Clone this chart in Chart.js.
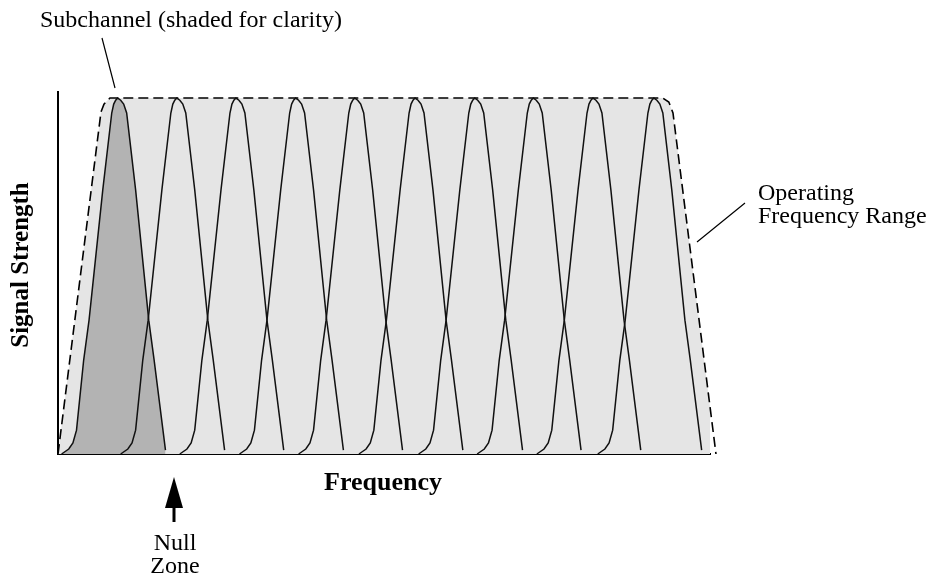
<!DOCTYPE html>
<html>
<head>
<meta charset="utf-8">
<script src="https://cdn.jsdelivr.net/npm/chart.js@4.4.1/dist/chart.umd.min.js"></script>
<style>
  html, body { margin: 0; padding: 0; background: #fff; }
  #wrap { width: 928px; height: 575px; }
</style>
</head>
<body>
<div id="wrap"><canvas id="chart"></canvas></div>
<script>
/** Data **/
// subchannel centre frequencies (one unit = one subchannel spacing)
const subchannelCenters = [1.0, 1.99, 2.98, 3.98, 4.97, 5.98, 6.98, 7.96, 8.96, 9.98];

// shape of one subchannel: offset from its centre and relative signal strength
const profileOffsets = [-0.94, -0.82, -0.75, -0.69, -0.57, -0.48, -0.25, -0.10, -0.067, -0.034, 0, 0.05, 0.10, 0.15, 0.30, 0.52, 0.61, 0.80];
const profileLevels  = [0, 0.014, 0.031, 0.067, 0.264, 0.376, 0.742, 0.958, 0.983, 0.994, 1.0, 0.994, 0.983, 0.958, 0.742, 0.376, 0.264, 0.011];

// operating frequency range outline
const rangeFreqs  = [0.0, 0.72, 0.77, 0.87, 10.13, 10.23, 10.30, 11.02];
const rangeLevels = [0, 0.961, 0.983, 1.0, 1.0, 0.989, 0.958, 0];

const freqMax = 10.92;
const levelMax = 1.017;

/** Build datasets **/
function subchannel(center) {
  return profileOffsets.map(function(o, i) {
    return { x: center + o, y: profileLevels[i] };
  });
}

var datasets = [];

datasets.push({
  label: "Operating Frequency Range",
  data: rangeFreqs.map(function(f, i) { return { x: f, y: rangeLevels[i] }; }),
  showLine: true,
  fill: "origin",
  backgroundColor: "#e5e5e5",
  borderColor: "#000",
  borderWidth: 1.6,
  borderDash: [10, 5],
  pointRadius: 0,
  tension: 0,
  clip: false,
  order: 30
});

subchannelCenters.forEach(function(c, i) {
  datasets.push({
    label: "Subchannel " + (i + 1),
    data: subchannel(c),
    showLine: true,
    fill: i === 0 ? "origin" : false,
    backgroundColor: "#b3b3b3",
    borderColor: "#111",
    borderWidth: 1.5,
    pointRadius: 0,
    tension: 0,
    clip: false,
    order: i === 0 ? 20 : 10
  });
});

/** Annotations (text, leader lines, arrow) **/
const serif = "'Liberation Serif', 'Times New Roman', serif";

var annotations = {
  id: "annotations",
  afterDraw: function(chart) {
    var ctx = chart.ctx;
    ctx.save();
    ctx.fillStyle = "#000";
    ctx.strokeStyle = "#000";

    // labels
    ctx.font = "24px " + serif;
    ctx.textBaseline = "alphabetic";
    ctx.textAlign = "left";
    ctx.fillText("Subchannel (shaded for clarity)", 40, 27);
    ctx.fillText("Operating", 758, 200);
    ctx.fillText("Frequency Range", 758, 223);
    ctx.textAlign = "center";
    ctx.fillText("Null", 175, 550);
    ctx.fillText("Zone", 175, 573);

    // axis titles
    ctx.font = "bold 26px " + serif;
    ctx.fillText("Frequency", 383, 490);
    ctx.font = "bold 25px " + serif;
    ctx.save();
    ctx.translate(28, 265);
    ctx.rotate(-Math.PI / 2);
    ctx.fillText("Signal Strength", 0, 0);
    ctx.restore();

    // leader lines
    ctx.lineWidth = 1.2;
    ctx.beginPath();
    ctx.moveTo(102, 38);
    ctx.lineTo(115, 88);
    ctx.moveTo(745, 203);
    ctx.lineTo(697, 242);
    ctx.stroke();

    // null zone arrow
    ctx.lineWidth = 3;
    ctx.beginPath();
    ctx.moveTo(174, 506);
    ctx.lineTo(174, 522);
    ctx.stroke();
    ctx.beginPath();
    ctx.moveTo(174, 477);
    ctx.lineTo(183, 508);
    ctx.lineTo(165, 508);
    ctx.closePath();
    ctx.fill();

    ctx.restore();
  }
};

/** Chart **/
var ctx = document.getElementById("chart");
var chart = new Chart(ctx, {
  type: "scatter",
  data: { datasets: datasets },
  options: {
    responsive: true,
    maintainAspectRatio: false,
    animation: false,
    events: [],
    layout: {
      padding: { left: 58, top: 92, right: 218, bottom: 121 }
    },
    plugins: {
      legend: { display: false },
      tooltip: { enabled: false }
    },
    scales: {
      x: {
        type: "linear",
        min: 0,
        max: freqMax,
        grid: { display: false, drawTicks: false },
        ticks: { display: false },
        border: { display: true, color: "#000", width: 2 }
      },
      y: {
        type: "linear",
        min: 0,
        max: levelMax,
        grid: { display: false, drawTicks: false },
        ticks: { display: false },
        border: { display: true, color: "#000", width: 2 }
      }
    }
  },
  plugins: [annotations]
});
</script>
</body>
</html>
